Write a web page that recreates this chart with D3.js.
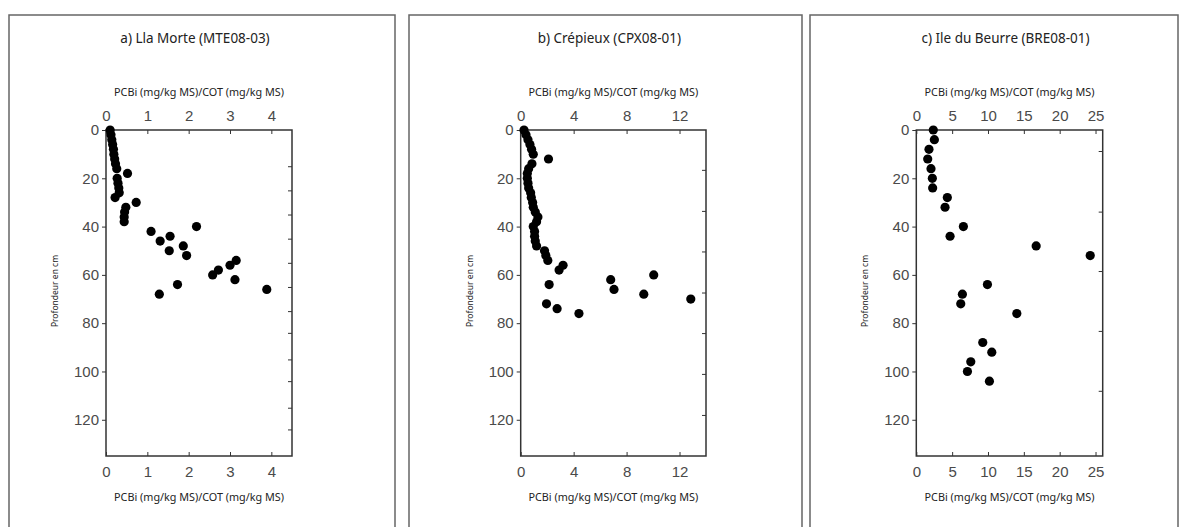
<!DOCTYPE html>
<html>
<head>
<meta charset="utf-8">
<script src="https://cdn.jsdelivr.net/npm/d3@7/dist/d3.min.js"></script>
<style>
  html, body { margin: 0; padding: 0; background: #fff; }
  svg { display: block; }
</style>
</head>
<body>
<svg id="chart" width="1182" height="527"></svg>
<script>
// ---------- DATA ----------
const titles = ["a) Lla Morte (MTE08-03)", "b) Crépieux (CPX08-01)", "c) Ile du Beurre (BRE08-01)"];
const xAxisTitle = "PCBi (mg/kg MS)/COT (mg/kg MS)";
const yAxisTitle = "Profondeur en cm";

const depthTicks = [0, 20, 40, 60, 80, 100, 120];

// Panel a
const depthA = [0, 2, 4, 6, 8, 10, 12, 14, 16, 18, 20, 22, 24, 26, 28, 30, 32, 34, 36, 38,
  40, 42, 44, 46, 48, 50, 52, 54, 56, 58, 60, 62, 64, 66, 68];
const valueA = [0.10, 0.12, 0.14, 0.16, 0.18, 0.19, 0.21, 0.23, 0.26, 0.52, 0.27, 0.29, 0.31, 0.32, 0.22, 0.73, 0.48, 0.45, 0.44, 0.44,
  2.19, 1.09, 1.55, 1.31, 1.87, 1.53, 1.95, 3.15, 3.00, 2.72, 2.58, 3.12, 1.73, 3.89, 1.29];
const xTicksA = [0, 1, 2, 3, 4];
const rightTicksA = [15, 25, 35, 45, 55, 65, 75, 84, 95, 104, 115, 124];

// Panel b
const depthB = [0, 2, 4, 6, 8, 10, 12, 14, 16, 18, 20, 22, 24, 26, 28, 30, 32, 34, 36, 38,
  40, 42, 44, 46, 48, 50, 52, 54, 56, 58, 60, 62, 64, 66, 68, 70, 72, 74, 76];
const valueB = [0.25, 0.40, 0.55, 0.70, 0.82, 0.95, 2.10, 0.85, 0.60, 0.50, 0.50, 0.55, 0.60, 0.75, 0.80, 0.90, 0.95, 1.10, 1.30, 1.20,
  0.95, 1.05, 1.05, 1.10, 1.20, 1.80, 1.90, 2.05, 3.20, 2.90, 10.05, 6.80, 2.15, 7.05, 9.30, 12.85, 1.95, 2.75, 4.40];
const xTicksB = [0, 4, 8, 12];
const rightTicksB = [16.5, 33.5, 50.3, 67.3, 84.1, 101, 118];

// Panel c
const depthC = [0, 4, 8, 12, 16, 20, 24, 28, 32, 40, 44, 48, 52, 64, 68, 72, 76, 88, 92, 96, 100, 104];
const valueC = [2.37, 2.52, 1.77, 1.59, 2.05, 2.24, 2.28, 4.33, 4.01, 6.57, 4.71, 16.72, 24.26, 9.92, 6.43, 6.20, 14.02, 9.27, 10.53, 7.60, 7.13, 10.20];
const xTicksC = [0, 5, 10, 15, 20, 25];
const rightTicksC = [8.7, 33.8, 58.4, 83.2, 108];

// ---------- LAYOUT ----------
const panels = [
  { title: titles[0], depth: depthA, value: valueA, xMax: 4.5, xTicks: xTicksA, rTicks: rightTicksA,
    frame: { x0: 9, x1: 395 }, plot: { l: 106, r: 292 } },
  { title: titles[1], depth: depthB, value: valueB, xMax: 14, xTicks: xTicksB, rTicks: rightTicksB,
    frame: { x0: 409, x1: 802 }, plot: { l: 520.7, r: 706 } },
  { title: titles[2], depth: depthC, value: valueC, xMax: 26, xTicks: xTicksC, rTicks: rightTicksC,
    frame: { x0: 810, x1: 1178 }, plot: { l: 916.3, r: 1102.7 } }
];
const plotTop = 130, plotBottom = 456, frameTop = 15;
const svg = d3.select("#chart");
const tickFont = "'Liberation Sans', Arial, sans-serif";
const labelFont = "'Noto Sans', 'Open Sans', sans-serif";

panels.forEach(p => {
  // outer frame (runs off the bottom)
  svg.append("path")
    .attr("d", `M${p.frame.x0},530 V${frameTop} H${p.frame.x1} V530`)
    .attr("fill", "none").attr("stroke", "#666").attr("stroke-width", 1.5);

  const x = d3.scaleLinear().domain([0, p.xMax]).range([p.plot.l, p.plot.r]);
  const y = d3.scaleLinear().domain([0, 135]).range([plotTop, plotBottom]);
  const cx = (p.plot.l + p.plot.r) / 2;

  svg.append("text").attr("x", cx - 4).attr("y", 43).attr("text-anchor", "middle")
    .attr("font-family", labelFont).attr("font-size", 13.5).attr("fill", "#222").text(p.title);

  svg.append("text").attr("x", cx).attr("y", 96).attr("text-anchor", "middle")
    .attr("font-family", labelFont).attr("font-size", 10.8).attr("fill", "#222").text(xAxisTitle);
  svg.append("text").attr("x", cx).attr("y", 500.5).attr("text-anchor", "middle")
    .attr("font-family", labelFont).attr("font-size", 10.8).attr("fill", "#222").text(xAxisTitle);

  const ymid = (plotTop + plotBottom) / 2;
  svg.append("text").attr("transform", `translate(${p.plot.l - 48},${ymid - 2}) rotate(-90)`)
    .attr("text-anchor", "middle").attr("font-family", labelFont).attr("font-size", 8.5)
    .attr("fill", "#222").text(yAxisTitle);

  const style = g => {
    g.select(".domain").remove();
    g.selectAll(".tick line").attr("stroke", "#333").attr("stroke-width", 1);
    g.selectAll(".tick text").attr("font-family", tickFont).attr("font-size", 15).attr("fill", "#4a4a4a");
  };

  svg.append("g").attr("transform", `translate(0,${plotTop})`)
    .call(d3.axisTop(x).tickValues(p.xTicks).tickFormat(d3.format("d")).tickSize(-4).tickPadding(9))
    .call(style);
  svg.append("g").attr("transform", `translate(0,${plotBottom})`)
    .call(d3.axisBottom(x).tickValues(p.xTicks).tickFormat(d3.format("d")).tickSize(-4).tickPadding(10))
    .call(style);
  svg.append("g").attr("transform", `translate(${p.plot.l},0)`)
    .call(d3.axisLeft(y).tickValues(depthTicks).tickFormat(d3.format("d")).tickSize(4).tickPadding(3))
    .call(style);
  svg.append("g").attr("transform", `translate(${p.plot.r},0)`)
    .call(d3.axisRight(y).tickValues(p.rTicks).tickFormat("").tickSize(-4))
    .call(style);

  svg.append("rect").attr("x", p.plot.l).attr("y", plotTop)
    .attr("width", p.plot.r - p.plot.l).attr("height", plotBottom - plotTop)
    .attr("fill", "none").attr("stroke", "#333").attr("stroke-width", 1.5);

  svg.append("g").selectAll("circle").data(p.depth.map((d, i) => ({ d, v: p.value[i] })))
    .join("circle")
    .attr("cx", o => x(o.v)).attr("cy", o => y(o.d)).attr("r", 4.6).attr("fill", "#000");
});
</script>
</body>
</html>
